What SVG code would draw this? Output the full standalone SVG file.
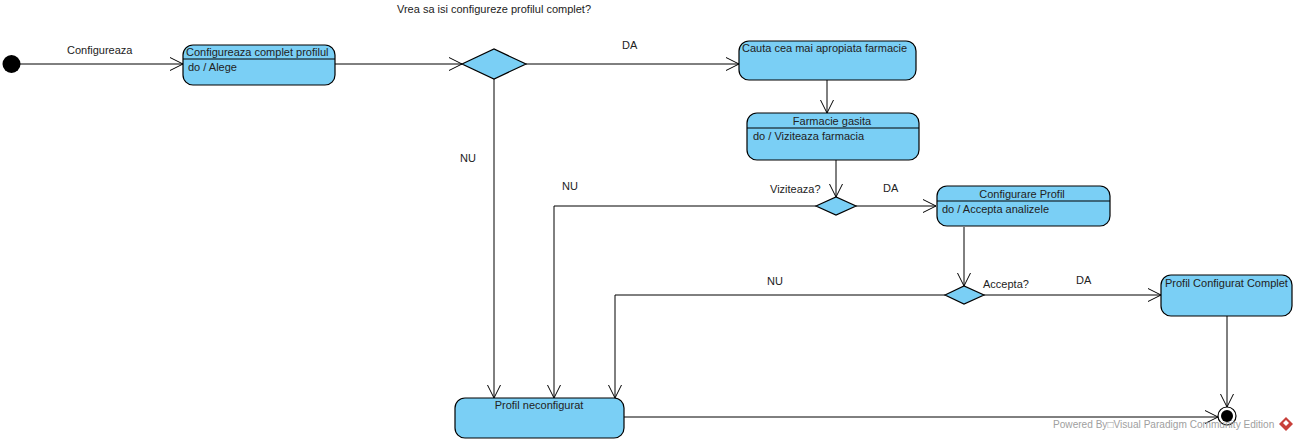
<svg xmlns="http://www.w3.org/2000/svg" width="1297" height="441" viewBox="0 0 1297 441">
<style>
text{font-family:"Liberation Sans",Arial,sans-serif;font-size:11px;fill:#222}
.s{fill:#7acff5;stroke:#000;stroke-width:1.2}
.l{fill:none;stroke:#000;stroke-width:1}
.m{text-anchor:middle}
.wm{fill:#a0a0a0;font-size:10.1px}
</style>
<defs>
<marker id="a" markerUnits="userSpaceOnUse" markerWidth="16" markerHeight="18" refX="13" refY="9" orient="auto"><path d="M0 2.5L13 9L0 15.500" fill="none" stroke="#000" stroke-width="1"/></marker>
</defs>
<rect width="1297" height="441" fill="#fff"/>
<text x="397" y="13">Vrea sa isi configureze profilul complet?</text>
<g id="connectors">
<path class="l" marker-end="url(#a)" d="M20 64H183"/>
<path class="l" marker-end="url(#a)" d="M335 64H462"/>
<path class="l" marker-end="url(#a)" d="M526 64H739"/>
<path class="l" marker-end="url(#a)" d="M494 79V398"/>
<path class="l" marker-end="url(#a)" d="M827 80V113"/>
<path class="l" marker-end="url(#a)" d="M836 160V197"/>
<path class="l" marker-end="url(#a)" d="M856 206H936"/>
<path class="l" marker-end="url(#a)" d="M816 206H554V398"/>
<path class="l" marker-end="url(#a)" d="M964 227V286"/>
<path class="l" marker-end="url(#a)" d="M984 295H1161"/>
<path class="l" marker-end="url(#a)" d="M945 295H615V398"/>
<path class="l" marker-end="url(#a)" d="M1227 316V407"/>
<path class="l" marker-end="url(#a)" d="M624 417H1218"/>
</g>
<g id="start"><circle cx="11.500" cy="64" r="9" fill="#000"/></g>
<g id="n1"><rect class="s" x="183" y="45" width="152" height="40" rx="10"/><path class="l" d="M183 59H335"/><text x="186" y="56">Configureaza complet profilul</text><text x="188" y="71">do / Alege</text></g>
<g id="d1"><path class="s" d="M462 64L494 49L526 64L494 79Z"/></g>
<g id="n2"><rect class="s" x="739" y="41" width="177" height="39" rx="10"/><text x="742" y="52">Cauta cea mai apropiata farmacie</text></g>
<g id="n3"><rect class="s" x="747" y="113" width="172" height="47" rx="10"/><path class="l" d="M747 128H919"/><text class="m" x="832" y="125">Farmacie gasita</text><text x="753" y="140">do / Viziteaza farmacia</text></g>
<g id="d2"><path class="s" d="M816 206L836 197L856 206L836 215Z"/></g>
<g id="n4"><rect class="s" x="937" y="186" width="173" height="40" rx="10"/><path class="l" d="M937 201H1110"/><text class="m" x="1022" y="198">Configurare Profil</text><text x="942" y="213">do / Accepta analizele</text></g>
<g id="d3"><path class="s" d="M945 295L964 286L984 295L964 304Z"/></g>
<g id="n5"><rect class="s" x="1161" y="275" width="131" height="41" rx="10"/><text x="1165" y="287">Profil Configurat Complet</text></g>
<g id="n6"><rect class="s" x="455" y="398" width="169" height="40" rx="10"/><text class="m" x="539" y="409">Profil neconfigurat</text></g>
<g id="end"><circle cx="1227" cy="416" r="9" fill="#fff" stroke="#000" stroke-width="1.2"/><circle cx="1227" cy="416" r="6" fill="#000"/></g>
<text x="67" y="54">Configureaza</text>
<text x="622" y="49">DA</text>
<text x="460" y="162">NU</text>
<text x="562" y="190">NU</text>
<text x="770" y="193">Viziteaza?</text>
<text x="883" y="192">DA</text>
<text x="767" y="285">NU</text>
<text x="983" y="288">Accepta?</text>
<text x="1076" y="284">DA</text>
<text class="wm" x="1053" y="428">Powered By□Visual Paradigm Community Edition</text>
<path d="M1286 417l7 7-7 7-7-7z" fill="#c8403a"/><path d="M1286 420l3 3-3 3-3-3z" fill="#fff"/>
</svg>
